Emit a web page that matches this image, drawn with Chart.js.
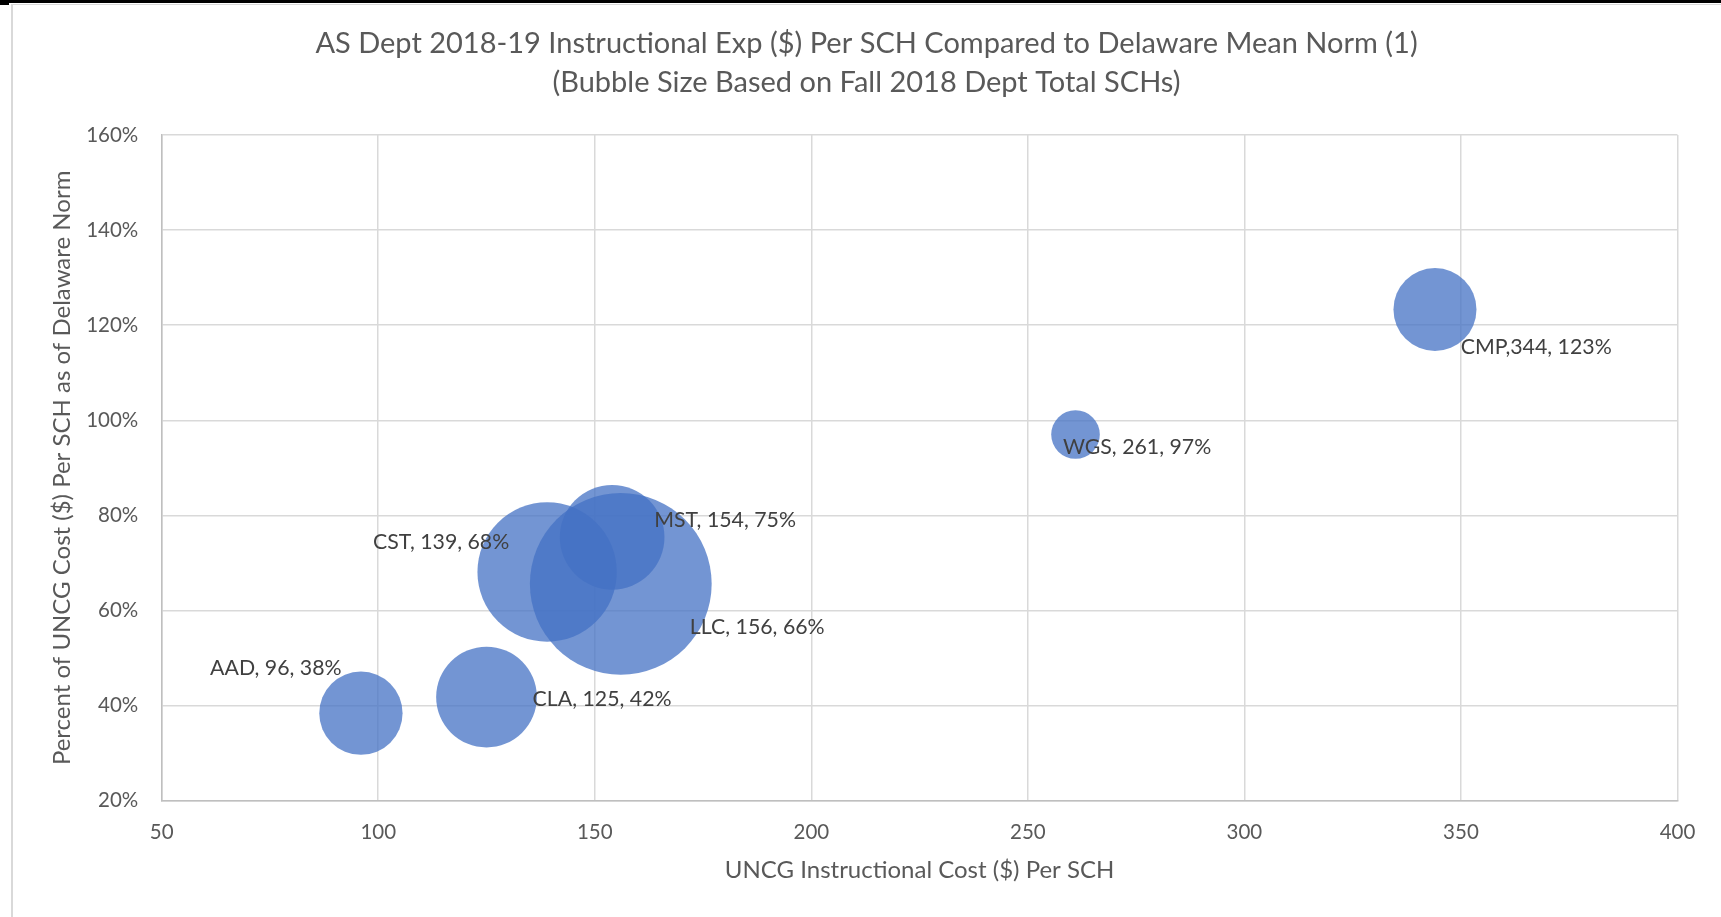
<!DOCTYPE html>
<html><head><meta charset="utf-8">
<script src="https://cdn.jsdelivr.net/npm/chart.js@4/dist/chart.umd.min.js"></script>
<style>
html,body{margin:0;padding:0;background:#fff;overflow:hidden;}
#wrap{position:relative;width:1721px;height:917px;}
#topbar{position:absolute;left:0;top:0;width:1721px;height:3px;background:#000;}
#corner{position:absolute;left:0;top:0;width:9px;height:5px;background:#000;}
#frame{position:absolute;left:11px;top:4px;width:1720px;height:930px;border-left:2px solid #d9d9d9;border-top:1px solid #d9d9d9;box-sizing:border-box;}
canvas{position:absolute;left:0;top:0;}
</style></head>
<body><div id="wrap"><div id="frame"></div><div id="topbar"></div><div id="corner"></div><canvas id="c" width="1721" height="917"></canvas></div>
<script>
// ---- data ----
const departments = ['AAD', 'CLA', 'CST', 'MST', 'LLC', 'WGS', 'CMP'];
const costPerSCH = [96, 125, 139, 154, 156, 261, 344];
const pctOfNorm = [38.4, 41.8, 68.1, 75.4, 65.6, 97.0, 123.3];
const totalSCH = [2100, 3070, 5880, 3320, 10000, 715, 2085];
const pointLabels = ['AAD, 96, 38%', 'CLA, 125, 42%', 'CST, 139, 68%', 'MST, 154, 75%', 'LLC, 156, 66%', 'WGS, 261, 97%', 'CMP,344, 123%'];
const xTickValues = [50, 100, 150, 200, 250, 300, 350, 400];
const yTickValues = [20, 40, 60, 80, 100, 120, 140, 160];
const titleLines = ['AS Dept 2018-19 Instructional Exp ($) Per SCH Compared to Delaware Mean Norm (1)', '(Bubble Size Based on Fall 2018 Dept Total SCHs)'];
const xAxisTitle = 'UNCG Instructional Cost ($) Per SCH';
const yAxisTitle = 'Percent of UNCG Cost ($) Per SCH as of Delaware Norm';

const maxSCH = Math.max(...totalSCH);
const MAX_RADIUS = 90.9;
const bubbleData = departments.map((d, i) => ({
  x: costPerSCH[i], y: pctOfNorm[i],
  r: MAX_RADIUS * Math.sqrt(totalSCH[i] / maxSCH)
}));

const labelPlugin = {
  id: 'bubbleLabels',
  afterDatasetsDraw(chart, args, opts) {
    const ctx = chart.ctx;
    const meta = chart.getDatasetMeta(0);
    ctx.save();
    ctx.font = opts.font;
    ctx.fillStyle = opts.color;
    ctx.textAlign = 'left';
    ctx.textBaseline = 'middle';
    meta.data.forEach((el, i) => {
      const off = opts.offsets[departments[i]];
      ctx.fillText(pointLabels[i], el.x + off[0], el.y + off[1]);
    });
    ctx.restore();
  }
};

const tickColor = '#595959';
new Chart(document.getElementById('c'), {
  type: 'bubble',
  data: {
    datasets: [{
      label: 'Departments',
      data: bubbleData,
      backgroundColor: 'rgba(68,114,196,0.75)',
      borderWidth: 0,
      hoverBorderWidth: 0
    }]
  },
  options: {
    responsive: false,
    animation: false,
    events: [],
    layout: { autoPadding: false, padding: { left: 12, right: 0, top: 4, bottom: 0 } },
    plugins: {
      legend: { display: false },
      tooltip: { enabled: false },
      title: {
        display: true, text: titleLines[0], color: tickColor,
        font: { family: 'Lato', size: 29, weight: 'normal', lineHeight: 1.2 },
        padding: { top: 22.5, bottom: 0 }
      },
      subtitle: {
        display: true, text: titleLines[1], color: tickColor,
        font: { family: 'Lato', size: 29, weight: 'normal', lineHeight: 1.2 },
        padding: { top: 3.6, bottom: 35.3 }
      },
      bubbleLabels: {
        font: '21.3px Lato',
        color: '#404040',
        offsets: { AAD: [-150.8, -45], CLA: [46.1, 1.8], CST: [-174.1, -29.7], MST: [42.1, -16.8], LLC: [69.1, 42.8], WGS: [-12.6, 12.2], CMP: [25.7, 37.4] }
      }
    },
    scales: {
      x: {
        type: 'linear', min: 50, max: 400,
        afterFit(s) { s.height = 116.3; },
        afterBuildTicks(s) { s.ticks = xTickValues.map(v => ({ value: v })); },
        grid: { color: '#d9d9d9', lineWidth: 1.5, drawTicks: false },
        border: { color: '#bfbfbf', width: 1.5 },
        ticks: { color: tickColor, font: { family: 'Lato', size: 20.5 }, padding: 19.5, maxRotation: 0 },
        title: { display: true, text: xAxisTitle, color: tickColor, font: { family: 'Lato', size: 24 }, padding: { top: 0, bottom: 32.2 } }
      },
      y: {
        type: 'linear', min: 20, max: 160,
        afterFit(s) { s.width = 149.7; },
        afterBuildTicks(s) { s.ticks = yTickValues.map(v => ({ value: v })); },
        grid: { color: '#d9d9d9', lineWidth: 1.5, drawTicks: false },
        border: { color: '#bfbfbf', width: 1.5 },
        ticks: { color: tickColor, font: { family: 'Lato', size: 20.5 }, padding: 23.4, callback: v => v + '%' },
        title: { display: true, text: yAxisTitle, color: tickColor, font: { family: 'Lato', size: 24 }, padding: { top: 35.9, bottom: 0 } }
      },
      rightGap: {
        type: 'linear', position: 'right', min: 0, max: 1,
        afterFit(s) { s.width = 43.5; },
        grid: { display: false, drawTicks: false },
        border: { display: false },
        ticks: { display: false }
      }
    }
  },
  plugins: [labelPlugin]
});
</script>
</body></html>
